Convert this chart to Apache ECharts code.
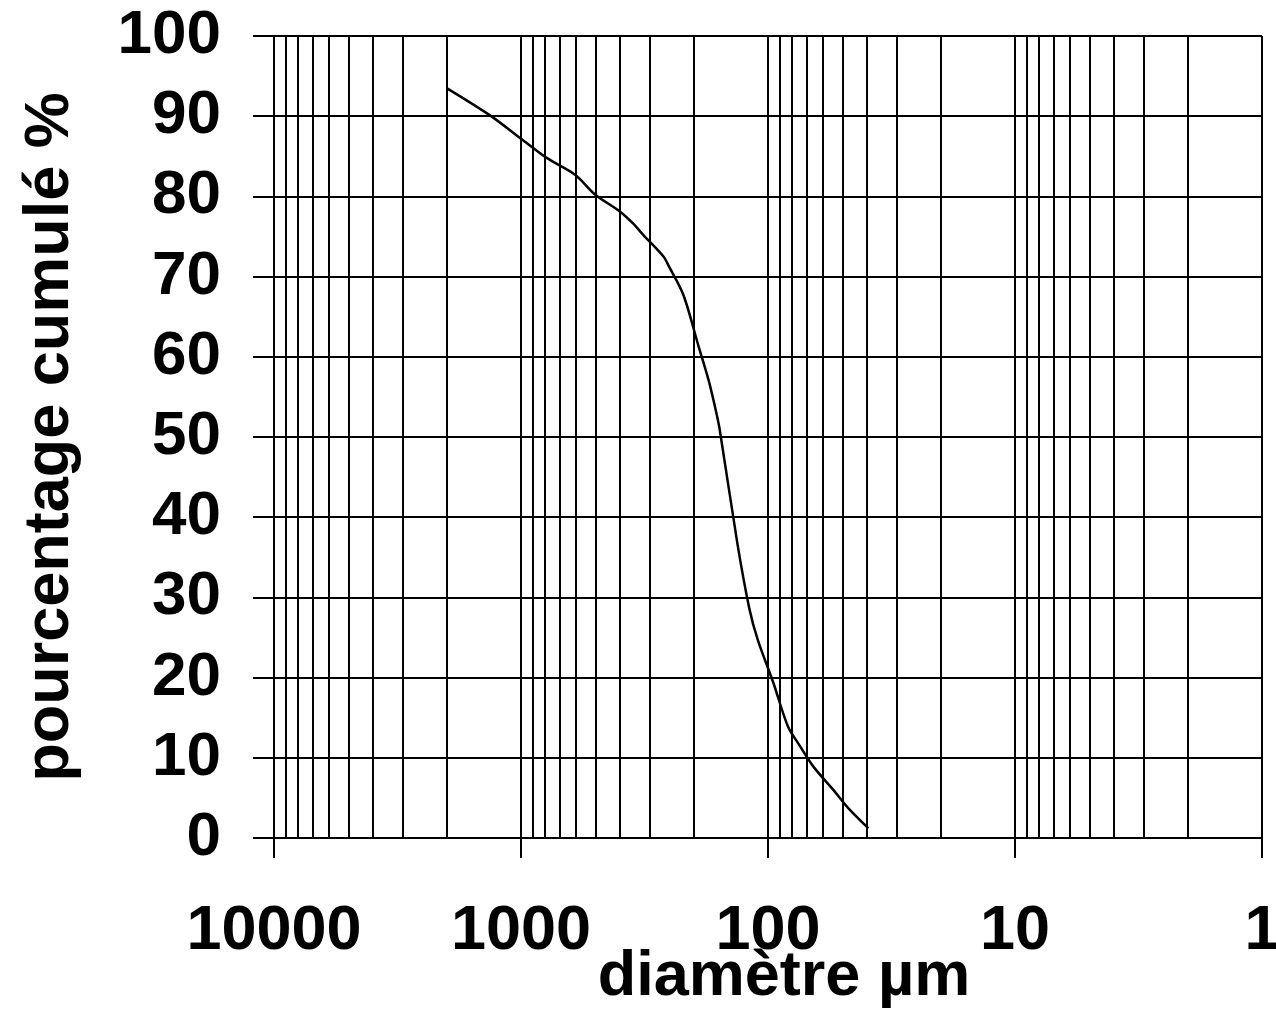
<!DOCTYPE html>
<html>
<head>
<meta charset="utf-8">
<title>Courbe granulométrique</title>
<script src="https://cdn.jsdelivr.net/npm/echarts@6/dist/echarts.min.js"></script>
<style>
  html, body { margin: 0; padding: 0; background: #ffffff; }
  #chart { width: 1276px; height: 1015px; }
</style>
</head>
<body>
<div id="chart"></div>
<script>
// Cumulative particle-size distribution (diameter in µm, cumulative %)
const diameters = [2000, 1335, 1000, 787, 604, 500, 397, 351, 320, 265, 253, 220, 191, 174, 164, 157,
                   133, 119, 110, 95, 83, 74, 65.5, 54.4, 46.6, 39.2];
const cumulative = [93.5, 90.1, 87.2, 84.8, 82.7, 80.2, 78.1, 76.6, 75.2, 72.5, 71.4, 67.7, 61.3, 57.1, 53.8, 51.0,
                    36.7, 28.6, 24.7, 19.3, 13.9, 11.4, 8.9, 6.0, 3.5, 1.2];

// Axis ranges and ticks
const xMin = 1;
const xMax = 10000;
const yMin = 0;
const yMax = 100;
const yStep = 10;
// Intermediate lines of the log paper (2..9 in each decade)
const decades = [1, 10, 100, 1000];
const minorMultipliers = [2, 3, 4, 5, 6, 7, 8, 9];

const minorLines = [];
decades.forEach(d => minorMultipliers.forEach(m => minorLines.push({ xAxis: d * m })));

const FONT = "'Liberation Sans', Arial, sans-serif";
const ink = '#000000';

const chart = echarts.init(document.getElementById('chart'), null, { renderer: 'canvas' });

chart.setOption({
  backgroundColor: '#ffffff',
  animation: false,
  grid: { left: 274, right: 14, top: 36, bottom: 177, outerBoundsMode: 'none', containLabel: false },
  xAxis: {
    type: 'log',
    logBase: 10,
    inverse: true,
    min: xMin,
    max: xMax,
    name: 'diamètre µm',
    nameLocation: 'middle',
    nameGap: 108,
    nameMoveOverlap: false,
    nameTextStyle: { color: ink, fontFamily: FONT, fontSize: 63, fontWeight: 'bold', padding: [0, 0, 0, 32] },
    axisLine: { show: true, lineStyle: { color: ink, width: 2 } },
    axisTick: { show: true, inside: false, length: 20, lineStyle: { color: ink, width: 2 } },
    axisLabel: {
      color: ink, fontFamily: FONT, fontSize: 63, fontWeight: 'bold', margin: 62,
      formatter: v => String(Math.round(v))
    },
    splitLine: { show: true, lineStyle: { color: ink, width: 2 } },
    minorTick: { show: false },
    minorSplitLine: { show: false }
  },
  yAxis: {
    type: 'value',
    min: yMin,
    max: yMax,
    interval: yStep,
    name: 'pourcentage cumulé %',
    nameLocation: 'middle',
    nameGap: 192,
    nameMoveOverlap: false,
    nameTextStyle: { color: ink, fontFamily: FONT, fontSize: 63, fontWeight: 'bold' },
    axisLine: { show: true, lineStyle: { color: ink, width: 2 } },
    axisTick: { show: true, inside: false, length: 21, lineStyle: { color: ink, width: 2 } },
    axisLabel: { color: ink, fontFamily: FONT, fontSize: 62, fontWeight: 'bold', margin: 53 },
    splitLine: { show: true, lineStyle: { color: ink, width: 2 } }
  },
  series: [
    {
      name: 'courbe',
      type: 'line',
      data: diameters.map((d, i) => [d, cumulative[i]]),
      smooth: 0.3,
      showSymbol: false,
      symbol: 'none',
      lineStyle: { color: ink, width: 2.5 },
      z: 5,
      markLine: {
        silent: true,
        symbol: ['none', 'none'],
        label: { show: false },
        lineStyle: { color: ink, width: 2, type: 'solid' },
        emphasis: { disabled: true },
        data: minorLines,
        z: 1
      }
    }
  ]
});
</script>
</body>
</html>
